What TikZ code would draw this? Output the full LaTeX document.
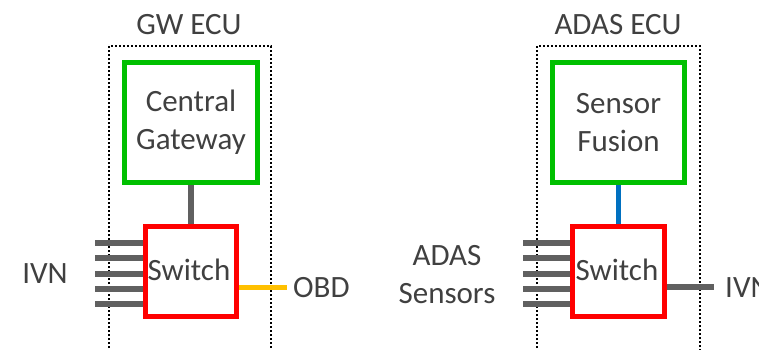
\documentclass[tikz,border=0pt]{standalone}
\usepackage{fontspec}
\setmainfont{Carlito}
\begin{document}
\begin{tikzpicture}[x=1pt,y=-1pt,
  every node/.style={font=\fontsize{31}{38}\selectfont, text=txtgray, inner sep=0pt},
  ecuframe/.style={line width=1.8pt, dash pattern=on 1.8pt off 2.2pt, draw=black},
  procbox/.style={draw=boxgreen, line width=5pt, align=center},
  switchbox/.style={draw=boxred, line width=5pt},
  link/.style={line width=5.5pt, draw=linkgray},
  label/.style={align=center}
]
\definecolor{txtgray}{HTML}{404040}
\definecolor{boxgreen}{RGB}{0,192,0}
\definecolor{boxred}{RGB}{255,0,0}
\definecolor{linkgray}{HTML}{606060}
\definecolor{obdorange}{HTML}{FFC000}
\definecolor{linkblue}{HTML}{0070C0}

\useasboundingbox (0,0) rectangle (759,350);

% ---------- Gateway ECU ----------
\coordinate (gwBL) at (109,352);
\coordinate (gwTL) at (109,46);
\coordinate (gwTR) at (271,46);
\coordinate (gwBR) at (271,352);
\draw[ecuframe] (gwBL) -- (gwTL) -- (gwTR) -- (gwBR);
\node (gwtitle) at (189,25) {GW ECU};

\node[procbox, minimum width=133pt, minimum height=120pt] (cgw) at (191,122.5) {Central\\Gateway};
\node[switchbox, minimum width=91pt, minimum height=90pt] (swL) at (191,271.5) {};
\node (swLtext) at (189,270) {Switch};

\draw[link] (cgw.south) -- (swL.north);

\foreach \yy [count=\k] in {243,258,274,289,304} {
  \coordinate (ivn\k) at (95,\yy);
  \draw[link] (ivn\k) -- (ivn\k -| swL.west);
}
\node (ivnL) at (45,274) {IVN};

\coordinate (obdEnd) at (287,287);
\draw[line width=5pt, draw=obdorange] (obdEnd -| swL.east) -- (obdEnd);
\node[anchor=west] (obd) at (293,288) {OBD};

% ---------- ADAS ECU ----------
\coordinate (adBL) at (537,352);
\coordinate (adTL) at (537,46);
\coordinate (adTR) at (700,46);
\coordinate (adBR) at (700,352);
\draw[ecuframe] (adBL) -- (adTL) -- (adTR) -- (adBR);
\node (adtitle) at (618,25) {ADAS ECU};

\node[procbox, minimum width=132pt, minimum height=120pt] (fus) at (618.5,122.5) {Sensor\\Fusion};
\node[switchbox, minimum width=92pt, minimum height=90pt] (swR) at (618.5,271.5) {};
\node (swRtext) at (617,270) {Switch};

\draw[link, draw=linkblue] (fus.south) -- (swR.north);

\foreach \yy [count=\k] in {243,258,274,289,304} {
  \coordinate (sen\k) at (523,\yy);
  \draw[link] (sen\k) -- (sen\k -| swR.west);
}
\node[label] (sens) at (447,275) {ADAS\\Sensors};

\coordinate (ivnEnd) at (714,287);
\draw[link] (ivnEnd -| swR.east) -- (ivnEnd);
\node[anchor=west] (ivnR) at (725,288) {IVN};
\end{tikzpicture}
\end{document}
